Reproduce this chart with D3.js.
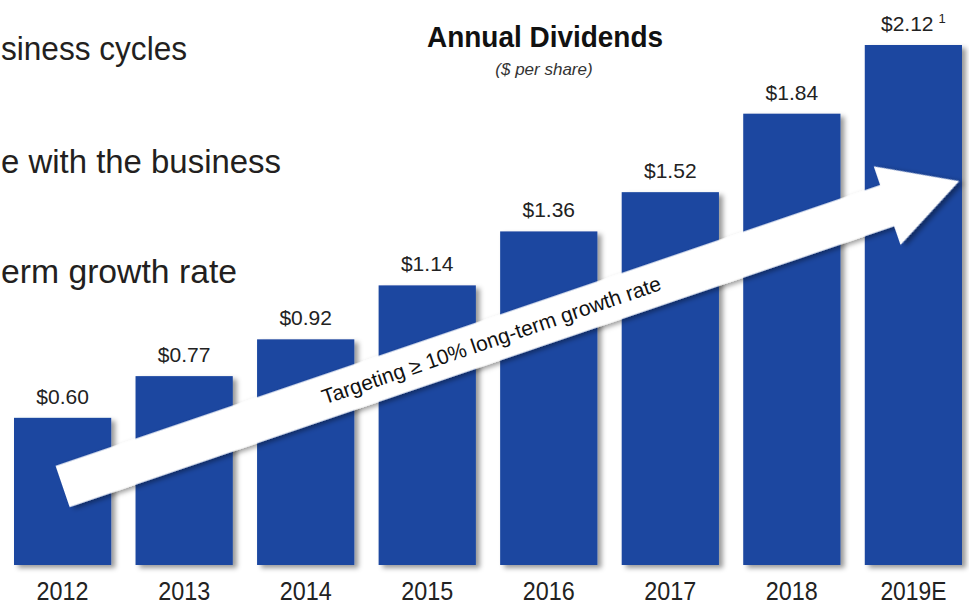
<!DOCTYPE html>
<html><head><meta charset="utf-8">
<script src="https://cdn.jsdelivr.net/npm/d3@7"></script>
<style>html,body{margin:0;background:#fff}svg{display:block}</style>
</head><body>
<script>
// Annual dividends per share
const years = ["2012", "2013", "2014", "2015", "2016", "2017", "2018", "2019E"];
const dividends = [0.60, 0.77, 0.92, 1.14, 1.36, 1.52, 1.84, 2.12];
const valueLabels = ["$0.60", "$0.77", "$0.92", "$1.14", "$1.36", "$1.52", "$1.84", "$2.12"];
const footnoteMarks = ["", "", "", "", "", "", "", "1"];
const sideLines = ["siness cycles", "e with the business", "erm growth rate"];
const chartTitle = "Annual Dividends";
const chartSubtitle = "($ per share)";
const arrowText = "Targeting \u2265 10% long-term growth rate";
// growth arrow, anchored to a band position and a dividend level
const arrowFrom = { year: "2012", along: 0.5, value: 0.32 };
const arrowTo = { year: "2019E", along: 0.97, value: 1.565 };

const W = 969, H = 608;
const svg = d3.select("body").append("svg").attr("width", W).attr("height", H);

const defs = svg.append("defs");
const shadow = defs.append("filter").attr("id", "shade")
  .attr("x", "-20%").attr("y", "-20%").attr("width", "140%").attr("height", "140%");
shadow.append("feDropShadow").attr("dx", 4).attr("dy", 3)
  .attr("stdDeviation", 2.5).attr("flood-color", "#000").attr("flood-opacity", 0.4);

const x = d3.scaleBand().domain(years).range([14, 962]).paddingInner(0.2).paddingOuter(0);
const y = d3.scaleLinear().domain([0, 2.12]).range([565, 45]);

const rows = years.map((yr, i) => ({ yr, v: dividends[i], label: valueLabels[i], mark: footnoteMarks[i] }));

// side text (continued bullet lines)
const sideLen = [186, 280, 236], sideY = [60, 173, 283];
svg.append("g").selectAll("text").data(sideLines).join("text")
  .attr("x", 1).attr("y", (d, i) => sideY[i])
  .attr("textLength", (d, i) => sideLen[i]).attr("lengthAdjust", "spacingAndGlyphs")
  .style("font-family", "'Liberation Sans', Arial, sans-serif")
  .style("font-size", "33px").style("fill", "#231f20")
  .text(d => d);

// title
svg.append("text").attr("x", 545).attr("y", 47).attr("text-anchor", "middle")
  .attr("textLength", 236).attr("lengthAdjust", "spacingAndGlyphs")
  .style("font-family", "'Liberation Sans', Arial, sans-serif")
  .style("font-weight", "bold").style("font-size", "30px").style("fill", "#111")
  .text(chartTitle);
svg.append("text").attr("x", 544).attr("y", 75).attr("text-anchor", "middle")
  .style("font-family", "'Liberation Sans', Arial, sans-serif")
  .style("font-style", "italic").style("font-size", "17px").style("fill", "#333")
  .text(chartSubtitle);

// bars
svg.append("g").attr("filter", "url(#shade)").selectAll("rect").data(rows).join("rect")
  .attr("x", d => x(d.yr)).attr("width", x.bandwidth())
  .attr("y", d => y(d.v)).attr("height", d => y(0) - y(d.v))
  .attr("fill", "#1b46a0");

// value labels
const vl = svg.append("g").selectAll("text").data(rows).join("text")
  .attr("x", d => x(d.yr) + x.bandwidth() / 2).attr("y", d => y(d.v) - 14)
  .attr("text-anchor", "middle")
  .style("font-family", "'Liberation Sans', Arial, sans-serif")
  .style("font-size", "21px").style("fill", "#222");
vl.append("tspan").text(d => d.label);
vl.filter(d => d.mark).append("tspan").attr("dx", 5).attr("dy", -8)
  .style("font-size", "13px").text(d => d.mark);

// year axis labels
svg.append("g").selectAll("text").data(rows).join("text")
  .attr("x", d => x(d.yr) + x.bandwidth() / 2).attr("y", 600)
  .attr("text-anchor", "middle")
  .style("font-family", "'Liberation Sans', Arial, sans-serif")
  .style("font-size", "25px").style("fill", "#222")
  .attr("textLength", d => d.yr.length > 4 ? 66 : 52).attr("lengthAdjust", "spacingAndGlyphs")
  .text(d => d.yr);

// growth arrow
const x0 = x(arrowFrom.year) + x.bandwidth() * arrowFrom.along, y0 = y(arrowFrom.value);
const x1 = x(arrowTo.year) + x.bandwidth() * arrowTo.along, y1 = y(arrowTo.value);
const len = Math.hypot(x1 - x0, y1 - y0);
const ang = Math.atan2(y1 - y0, x1 - x0) * 180 / Math.PI;
const shaftHalf = 21.75, headHalf = 41.5, headLen = 76;
const arrow = svg.append("g").attr("transform", `translate(${x0},${y0}) rotate(${ang})`);
const pts = [[0, -shaftHalf], [len - headLen, -shaftHalf], [len - headLen, -headHalf], [len, 0],
  [len - headLen, headHalf], [len - headLen, shaftHalf], [0, shaftHalf]];
arrow.append("path").attr("d", d3.line()(pts) + "Z")
  .attr("fill", "#fff").attr("filter", "url(#shade)");
arrow.append("text").attr("x", 453).attr("y", 7).attr("text-anchor", "middle")
  .attr("textLength", 357).attr("lengthAdjust", "spacingAndGlyphs")
  .style("font-family", "'Liberation Sans', Arial, sans-serif")
  .style("font-size", "21px").style("fill", "#111")
  .text(arrowText);
</script>
</body></html>
